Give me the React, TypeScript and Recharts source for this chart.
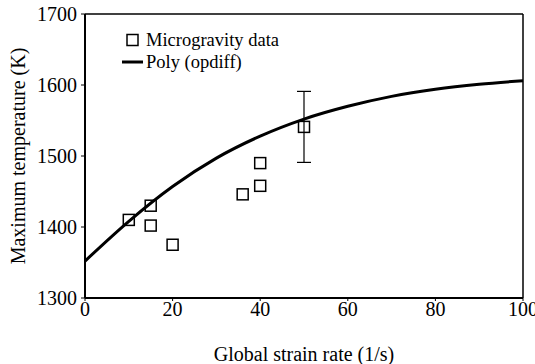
import React from 'react';
import {
  ComposedChart,
  XAxis,
  YAxis,
  Scatter,
  Line,
  ErrorBar,
  ReferenceLine,
  Legend,
} from 'recharts';

// ---- data ----
const xTicks = [0, 20, 40, 60, 80, 100];
const yTicks = [1300, 1400, 1500, 1600, 1700];
const yMinorTicks = [1320, 1340, 1360, 1380, 1420, 1440, 1460, 1480, 1520, 1540, 1560, 1580, 1620, 1640, 1660, 1680];

const microStrain = [10, 15, 15, 20, 36, 40, 40];
const microTemp = [1410, 1430, 1402, 1375, 1446, 1490, 1458];

const errStrain = [50];
const errTemp = [1541];
const errRange = [50];

const polyStrain = [0, 10, 20, 30, 40, 50, 60, 70, 80, 90, 100];
const polyTemp = [1352, 1408, 1457, 1497, 1528, 1552, 1570, 1584, 1594, 1601, 1606];

const seriesNames = ['Microgravity data', 'Poly (opdiff)'];

const microData = microStrain.map((x, i) => ({ x, y: microTemp[i] }));
const errData = errStrain.map((x, i) => ({ x, y: errTemp[i], err: errRange[i] }));
const polyData = polyStrain.map((x, i) => ({ x, y: polyTemp[i] }));

const FONT = '"Liberation Serif", "Times New Roman", serif';
const BOX = 11;

const SquareShape = (props: any) => {
  const { cx, cy } = props;
  if (cx == null || cy == null) return null;
  return (
    <rect
      x={cx - BOX / 2}
      y={cy - BOX / 2}
      width={BOX}
      height={BOX}
      fill="none"
      stroke="#000"
      strokeWidth={1.5}
    />
  );
};

const XTick = (props: any) => {
  const { x, y, payload } = props;
  return (
    <text x={x} y={y} dy="0.75em" textAnchor="middle" fontFamily={FONT} fontSize={20} fill="#000">
      {payload.value}
    </text>
  );
};

const YTick = (props: any) => {
  const { x, y, payload } = props;
  return (
    <text x={x} y={y} dy="0.34em" textAnchor="end" fontFamily={FONT} fontSize={20} fill="#000">
      {payload.value}
    </text>
  );
};

const LegendContent = () => (
  <div style={{ fontFamily: FONT, fontSize: 18.5, color: '#000', lineHeight: '22px' }}>
    <div style={{ display: 'flex', alignItems: 'center', height: 22 }}>
      <svg width={26} height={22}>
        <rect x={7} y={5.5} width={11} height={11} fill="none" stroke="#000" strokeWidth={1.5} />
      </svg>
      <span>{seriesNames[0]}</span>
    </div>
    <div style={{ display: 'flex', alignItems: 'center', height: 22 }}>
      <svg width={26} height={22}>
        <line x1={2} x2={23} y1={11} y2={11} stroke="#000" strokeWidth={3} />
      </svg>
      <span>{seriesNames[1]}</span>
    </div>
  </div>
);

export default function App() {
  return (
    <div style={{ position: 'absolute', left: 0, top: 0, fontFamily: FONT }}>
      <ComposedChart
        width={535}
        height={364}
        margin={{ top: 14, right: 12, bottom: 0, left: 13 }}
        style={{ fontFamily: FONT }}
      >
        <XAxis
          type="number"
          dataKey="x"
          domain={[0, 100]}
          ticks={xTicks}
          interval={0}
          height={66}
          tickSize={3}
          tickMargin={0}
          axisLine={{ stroke: '#000', strokeWidth: 2 }}
          tickLine={{ stroke: '#000', strokeWidth: 1 }}
          tick={<XTick />}
          label={{
            value: 'Global strain rate (1/s)',
            position: 'insideBottom',
            offset: 3,
            style: { fontFamily: FONT, fontSize: 20, fill: '#000', textAnchor: 'middle' },
          }}
        />
        <YAxis
          type="number"
          dataKey="y"
          domain={[1300, 1700]}
          ticks={yTicks}
          interval={0}
          width={72}
          tickSize={4}
          tickMargin={4}
          allowDataOverflow
          axisLine={{ stroke: '#000', strokeWidth: 2 }}
          tickLine={{ stroke: '#000', strokeWidth: 1 }}
          tick={<YTick />}
          label={{
            value: 'Maximum temperature (K)',
            angle: -90,
            position: 'insideLeft',
            offset: 5,
            style: { fontFamily: FONT, fontSize: 20, fill: '#000', textAnchor: 'middle' },
          }}
        />
        <YAxis
          yAxisId="minor"
          type="number"
          orientation="left"
          mirror
          domain={[1300, 1700]}
          ticks={yMinorTicks}
          interval={0}
          allowDataOverflow
          tick={false}
          tickSize={3}
          axisLine={false}
          tickLine={{ stroke: '#000', strokeWidth: 1 }}
        />
        <ReferenceLine y={1700} stroke="#000" strokeWidth={1.5} />
        <ReferenceLine x={100} stroke="#000" strokeWidth={1.5} />
        <Line
          data={polyData}
          dataKey="y"
          type="monotone"
          stroke="#000"
          strokeWidth={3}
          dot={false}
          activeDot={false}
          isAnimationActive={false}
          name={seriesNames[1]}
        />
        <Scatter
          data={microData}
          dataKey="y"
          shape={<SquareShape />}
          isAnimationActive={false}
          name={seriesNames[0]}
        />
        <Scatter
          data={errData}
          dataKey="y"
          shape={<SquareShape />}
          isAnimationActive={false}
          legendType="none"
        >
          <ErrorBar dataKey="err" direction="y" width={7} stroke="#000" strokeWidth={1.2} />
        </Scatter>
        <Legend
          layout="vertical"
          align="center"
          verticalAlign="middle"
          content={<LegendContent />}
          wrapperStyle={{ top: 29, left: 120, width: 'auto', height: 'auto' }}
        />
      </ComposedChart>
    </div>
  );
}
